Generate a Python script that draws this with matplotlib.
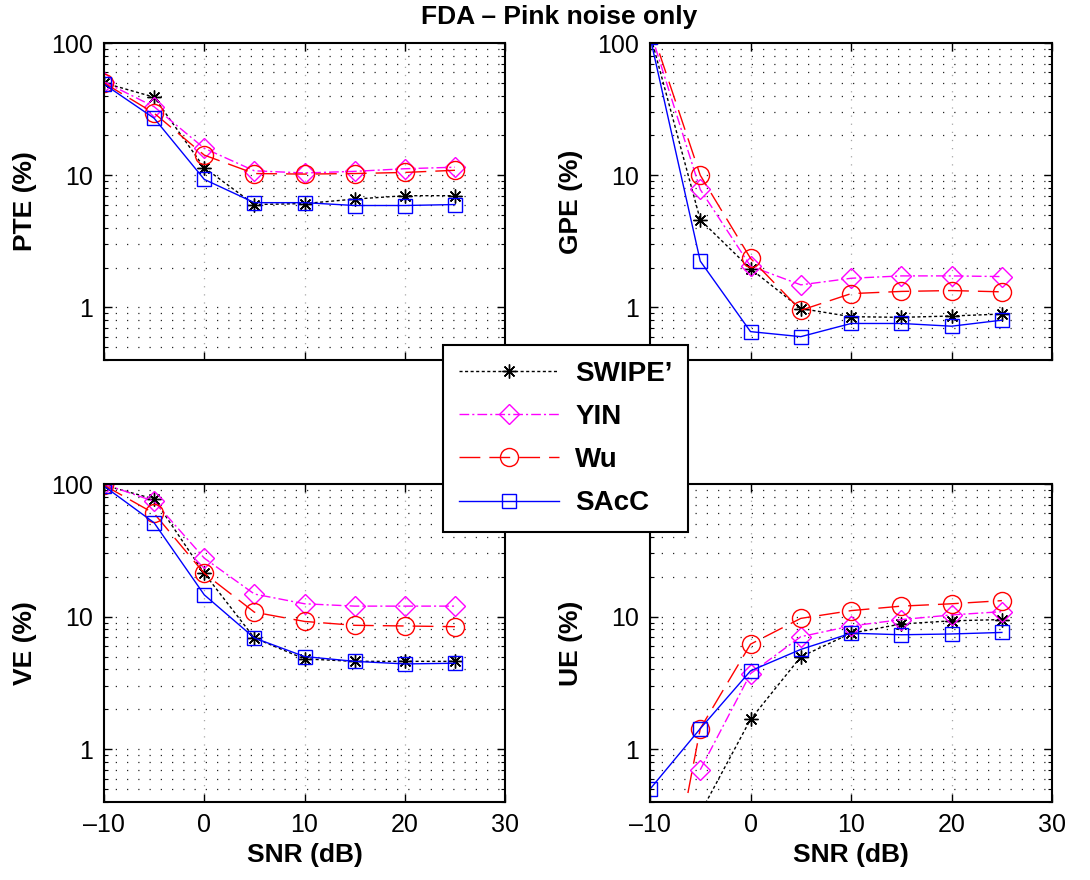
import numpy as np
import matplotlib.pyplot as plt
from matplotlib.ticker import FixedLocator, NullFormatter, FuncFormatter
from matplotlib.lines import Line2D

plt.rcParams['font.family'] = ['Liberation Sans', 'DejaVu Sans']

# SNR values (dB)
snr = [-10, -5, 0, 5, 10, 15, 20, 25]

# pitch tracking error (%)
pte_swipe = [50, 39, 11.4, 6.0, 6.1, 6.6, 7.0, 7.0]
pte_yin = [51, 33, 16, 10.8, 10.4, 10.7, 11.2, 11.5]
pte_wu = [50, 29.5, 14.2, 10.3, 10.2, 10.3, 10.5, 10.9]
pte_sacc = [49, 27, 9.3, 6.2, 6.2, 5.9, 5.9, 6.0]

# gross pitch error (%)
gpe_swipe = [118, 4.6, 1.96, 0.98, 0.85, 0.84, 0.86, 0.89]
gpe_yin = [125, 7.8, 2.05, 1.48, 1.66, 1.73, 1.73, 1.71]
gpe_wu = [137, 10.0, 2.35, 0.95, 1.27, 1.32, 1.34, 1.31]
gpe_sacc = [112, 2.24, 0.655, 0.60, 0.755, 0.755, 0.72, 0.80]

# voicing error (%)
ve_swipe = [98, 77, 21.2, 6.9, 4.8, 4.6, 4.6, 4.6]
ve_yin = [100, 74, 27.6, 14.8, 12.5, 12.0, 12.0, 12.0]
ve_wu = [98, 60, 21.2, 10.8, 9.2, 8.6, 8.5, 8.4]
ve_sacc = [96.5, 51, 14.6, 6.9, 5.0, 4.6, 4.4, 4.45]

# unvoiced error (%)
ue_swipe = [0, 0.33, 1.68, 4.98, 7.5, 8.8, 9.3, 9.5]
ue_yin = [0, 0.70, 3.72, 7.06, 8.5, 9.5, 10.3, 10.9]
ue_wu = [0.015, 1.43, 6.2, 9.7, 11.1, 12.0, 12.5, 13.2]
ue_sacc = [0.5, 1.43, 3.9, 5.66, 7.5, 7.3, 7.4, 7.6]

nombres = ['SWIPE\u2019', 'YIN', 'Wu', 'SAcC']
estilos = [
    dict(color='k', linestyle=(0, (2.2, 1.8)), marker=(8, 2, 0), markersize=10),
    dict(color='#ff00ff', linestyle=(0, (7, 2.2, 1.5, 2.2)), marker='D', markersize=10),
    dict(color='#ff0000', linestyle=(0, (15, 6.5)), marker='o', markersize=13),
    dict(color='#0000ff', linestyle='-', marker='s', markersize=10),
]

paneles = [
    ('PTE (%)', [pte_swipe, pte_yin, pte_wu, pte_sacc], [0.0954, 0.591, 0.368, 0.360], False),
    ('GPE (%)', [gpe_swipe, gpe_yin, gpe_wu, gpe_sacc], [0.5963, 0.591, 0.369, 0.360], False),
    ('VE (%)', [ve_swipe, ve_yin, ve_wu, ve_sacc], [0.0954, 0.0886, 0.368, 0.3614], True),
    ('UE (%)', [ue_swipe, ue_yin, ue_wu, ue_sacc], [0.5963, 0.0886, 0.369, 0.3614], True),
]

fig = plt.figure(figsize=(10.9, 8.8), dpi=100)

minores = [m * 10.0 ** e for e in (-1, 0, 1) for m in range(2, 10)]
minores = [v for v in minores if 0.4 <= v < 100]

for etiqueta, series, pos, con_x in paneles:
    ax = fig.add_axes(pos)
    ax.set_yscale('log')
    for datos, est in zip(series, estilos):
        # ceros no se pueden dibujar en escala log
        y = np.array(datos, dtype=float)
        y[y <= 0] = np.nan
        ax.plot(snr, y, linewidth=1.0, markerfacecolor='none',
                markeredgewidth=1.0, **est)
    ax.set_xlim(-10, 30)
    ax.set_ylim(0.4, 100)
    ax.xaxis.set_major_locator(FixedLocator([-10, 0, 10, 20, 30]))
    ax.yaxis.set_major_locator(FixedLocator([1, 10, 100]))
    ax.yaxis.set_minor_locator(FixedLocator(minores))
    ax.yaxis.set_major_formatter(FuncFormatter(lambda v, p: '%g' % v))
    ax.yaxis.set_minor_formatter(NullFormatter())
    ax.xaxis.set_major_formatter(FuncFormatter(lambda v, p: ('%g' % v).replace('-', '\u2013')))
    if not con_x:
        ax.set_xticklabels([])
    # rejilla punteada
    for v in [1, 10] + minores:
        ax.axhline(v, color='0.15', linewidth=0.9, linestyle=(0, (1, 8.0)), zorder=0)
    for v in [0, 10, 20]:
        ax.axvline(v, color='0.65', linewidth=0.9, linestyle=(0, (1, 5.5)), zorder=0)
    ax.tick_params(which='both', direction='in', top=True, right=True, labelsize=18)
    ax.tick_params(which='major', length=6, width=1.0)
    ax.tick_params(which='minor', length=3, width=0.8)
    ax.tick_params(axis='y', pad=8)
    ax.tick_params(axis='x', pad=8)
    for s in ax.spines.values():
        s.set_linewidth(1.5)
    ax.set_ylabel(etiqueta, fontsize=19, fontweight='bold', labelpad=10)
    if con_x:
        ax.set_xlabel('SNR (dB)', fontsize=19, fontweight='bold', labelpad=4)

fig.text(0.513, 1 - 17 / 880, 'FDA \u2013 Pink noise only', fontsize=19, fontweight='bold',
         ha='center', va='center')

manejadores = [Line2D([], [], linewidth=1.0, markerfacecolor='none', markeredgewidth=1.0, **e)
               for e in estilos]
leg = fig.legend(manejadores, nombres, loc='center', bbox_to_anchor=(0.519, 0.5017),
                 prop={'size': 20, 'weight': 'bold'}, handlelength=3.6, labelspacing=0.62,
                 fancybox=False, framealpha=1, edgecolor='k', borderpad=0.55, handletextpad=0.6)
leg.get_frame().set_linewidth(1.5)

plt.savefig('out.png')
